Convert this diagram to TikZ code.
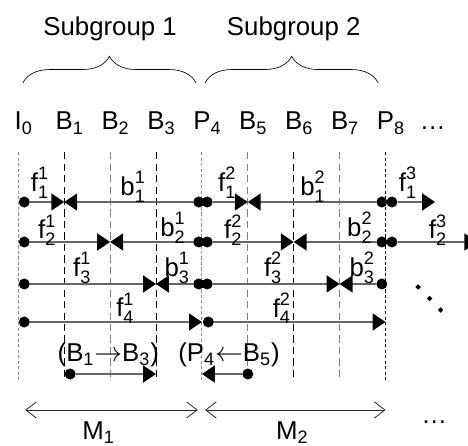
\documentclass[tikz,border=0pt]{standalone}
\usepackage{amsmath}
\usepackage{fontspec}
\setmainfont{Liberation Sans}
\usetikzlibrary{arrows.meta,decorations.pathreplacing}

% frame label with subscript that does not shift the letter
\newcommand\fr[2]{#1\rlap{\textsubscript{#2}}}
% vector label with sub- and superscript
\newcommand\mv[3]{$\text{#1}^{\text{#3}}_{\text{#2}}$}

\tikzset{
  every node/.style={font=\fontsize{16}{19}\selectfont},
  dot/.style={circle,fill=black,inner sep=0pt,minimum size=2.4mm},
  ref/.style={draw=black!60,line width=1.1pt,-{Triangle[color=black,length=8pt,width=10.5pt]}},
  span/.style={black!85,line width=0.5pt,{Straight Barb[length=6.5pt,width=10pt]}-{Straight Barb[length=6.5pt,width=10pt]}},
  finedash/.style={dash pattern=on 2pt off 1.4pt},
  longdash/.style={dash pattern=on 4.5pt off 2.6pt},
}

\begin{document}
\begin{tikzpicture}
      \useasboundingbox (-0.399,0) rectangle (9.797,9.695);
      \clip (-0.399,0) rectangle (9.797,9.695);
%
      \foreach \i in {0,...,8} \coordinate (c\i) at (\i,0);
      \foreach \r/\y in {1/5.294,2/4.423,3/3.508,4/2.68,5/1.547} \coordinate (r\r) at (0,\y);
      \coordinate (top) at (0,6.38);
      \coordinate (bot) at (0,1.42);
%
      \node (sg1) at (2,8.93) [anchor=base] {Subgroup 1};
      \node (sg2) at (6,8.93) [anchor=base] {Subgroup 2};
      \draw[decorate,decoration={brace,amplitude=5.8mm}] (0.1,7.89) -- (3.87,7.89);
      \draw[decorate,decoration={brace,amplitude=5.8mm}] (4.07,7.89) -- (7.84,7.89);
%
      \foreach \i/\t in {0/I,1/B,2/B,3/B,4/P,5/B,6/B,7/B,8/P}
        \node (f\i) at (\i,6.863) [anchor=base] {\fr{\t}{\i}};
      \node (more) at (9.03,6.863) [anchor=base] {\ldots};
%
      \foreach \i/\col/\pat in {0/black!45/finedash,1/black/longdash,2/black!50/longdash,
          3/black/longdash,4/black!45/finedash,5/black!50/longdash,6/black/longdash,
          7/black!50/longdash,8/black/finedash}
        \draw[\col,\pat,line width=0.6pt] (c\i|-top) -- (c\i|-bot);
%
      % first row
      \node[dot,xshift=1.3mm] (a0) at (c0|-r1) {};
      \node[dot,xshift=-0.7mm] (a4l) at (c4|-r1) {};
      \node[dot,xshift=1.15mm] (a4r) at (c4|-r1) {};
      \node[dot,xshift=-0.8mm] (a8l) at (c8|-r1) {};
      \node[dot,xshift=1.4mm] (a8r) at (c8|-r1) {};
      \coordinate (e1) at (9.08,5.294);
      \draw[ref] (a0) -- (c1|-r1);
      \draw[ref] (a4l) -- (c1|-r1);
      \draw[ref] (a4r) -- (c5|-r1);
      \draw[ref] (a8l) -- (c5|-r1);
      \draw[ref] (a8r) -- (e1);
%
      % second row
      \node[dot,xshift=1.3mm] (b0) at (c0|-r2) {};
      \node[dot,xshift=-0.7mm] (b4l) at (c4|-r2) {};
      \node[dot,xshift=1.15mm] (b4r) at (c4|-r2) {};
      \node[dot,xshift=-0.8mm] (b8l) at (c8|-r2) {};
      \node[dot,xshift=1.4mm] (b8r) at (c8|-r2) {};
      \coordinate (e2) at (10.0,4.423);
      \draw[ref] (b0) -- (c2|-r2);
      \draw[ref] (b4l) -- (c2|-r2);
      \draw[ref] (b4r) -- (c6|-r2);
      \draw[ref] (b8l) -- (c6|-r2);
      \draw[ref] (b8r) -- (e2);
%
      % third row
      \node[dot,xshift=1.3mm] (d0) at (c0|-r3) {};
      \node[dot,xshift=-0.7mm] (d4l) at (c4|-r3) {};
      \node[dot,xshift=1.15mm] (d4r) at (c4|-r3) {};
      \node[dot,xshift=-0.8mm] (d8l) at (c8|-r3) {};
      \draw[ref] (d0) -- (c3|-r3);
      \draw[ref] (d4l) -- (c3|-r3);
      \draw[ref] (d4r) -- (c7|-r3);
      \draw[ref] (d8l) -- (c7|-r3);
%
      % fourth row
      \node[dot,xshift=1.3mm] (g0) at (c0|-r4) {};
      \node[dot,xshift=1.4mm] (g4) at (c4|-r4) {};
      \draw[ref] (g0) -- (c4|-r4);
      \draw[ref] (g4) -- (c8|-r4);
%
      % reordered pair
      \node[dot,xshift=1.3mm] (h1) at (c1|-r5) {};
      \node[dot] (h5) at (c5|-r5) {};
      \draw[ref] (h1) -- (c3|-r5);
      \draw[ref] (h5) -- (c4|-r5);
      \node (p1) at (1.96,1.96) {(B\textsubscript{1}$\rightarrow$B\textsubscript{3})};
      \node (p2) at (4.59,1.96) {(P\textsubscript{4}$\leftarrow$B\textsubscript{5})};
%
      \node (l11) at (0.47,5.71) {\mv{f}{1}{1}};
      \node (l12) at (2.50,5.62) {\mv{b}{1}{1}};
      \node (l13) at (4.55,5.71) {\mv{f}{1}{2}};
      \node (l14) at (6.42,5.62) {\mv{b}{1}{2}};
      \node (l15) at (8.49,5.71) {\mv{f}{1}{3}};
      \node (l21) at (0.63,4.68) {\mv{f}{2}{1}};
      \node (l22) at (3.37,4.73) {\mv{b}{2}{1}};
      \node (l23) at (4.68,4.68) {\mv{f}{2}{2}};
      \node (l24) at (7.44,4.73) {\mv{b}{2}{2}};
      \node (l25) at (9.14,4.68) {\mv{f}{2}{3}};
      \node (l31) at (1.39,3.86) {\mv{f}{3}{1}};
      \node (l32) at (3.46,3.86) {\mv{b}{3}{1}};
      \node (l33) at (5.55,3.86) {\mv{f}{3}{2}};
      \node (l34) at (7.49,3.86) {\mv{b}{3}{2}};
      \node (l41) at (2.33,2.98) {\mv{f}{4}{1}};
      \node (l42) at (5.74,2.98) {\mv{f}{4}{2}};
%
      \foreach \x/\y in {8.71/3.44,8.96/3.19,9.2/2.94}
        \fill (\x,\y) +(0.06,0) -- +(0,0.06) -- +(-0.06,0) -- +(0,-0.06) -- cycle;
%
      \coordinate (m0) at (0.15,0.763);
      \coordinate (m4a) at (3.91,0.763);
      \coordinate (m4b) at (4.07,0.763);
      \coordinate (m8) at (8.0,0.763);
      \draw[span] (m0) -- (m4a);
      \draw[span] (m4b) -- (m8);
      \node (M1) at (1.63,0.13) [anchor=base] {\fr{M}{1}};
      \node (M2) at (5.85,0.13) [anchor=base] {\fr{M}{2}};
      \node (etc) at (9.06,0.46) [anchor=base] {\ldots};
%
      \end{tikzpicture}
\end{document}
